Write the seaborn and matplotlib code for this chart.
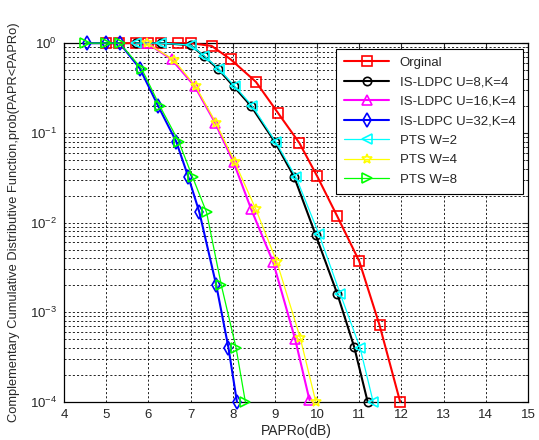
import pandas as pd
import matplotlib
matplotlib.use('Agg')
import matplotlib.pyplot as plt
import matplotlib.ticker as mticker
import seaborn as sns

sns.set_style("white")
plt.rcParams['font.family'] = ['Liberation Sans', 'DejaVu Sans']
plt.rcParams['mathtext.fontset'] = 'custom'
plt.rcParams['mathtext.rm'] = 'Liberation Sans'
plt.rcParams['mathtext.it'] = 'Liberation Sans:italic'

# values (PAPRo in dB, CCDF)
orig_x = [5.0, 5.3, 5.7, 6.0, 6.3, 6.7, 7.0, 7.5, 7.95, 8.55, 9.08, 9.58, 10.0, 10.48, 11.0, 11.48, 11.97]
orig_y = [1, 1, 1, 1, 1, 1, 1, 0.93, 0.66, 0.37, 0.165, 0.077, 0.033, 0.0117, 0.0037, 7.2e-4, 1e-4]

u8_x = [5.7, 6.3, 7.0, 7.31, 7.66, 8.02, 8.43, 9.0, 9.46, 9.97, 10.48, 10.88, 11.2]
u8_y = [1, 1, 0.95, 0.72, 0.51, 0.33, 0.2, 0.079, 0.032, 0.0072, 0.0016, 4.1e-4, 1e-4]

u16_x = [5.97, 6.55, 7.1, 7.58, 8.02, 8.44, 8.96, 9.48, 9.82]
u16_y = [1, 0.66, 0.33, 0.13, 0.047, 0.014, 0.0036, 5e-4, 1.05e-4]

u32_x = [4.54, 5.0, 5.32, 5.8, 6.23, 6.66, 6.95, 7.21, 7.61, 7.9, 8.1]
u32_y = [1, 1, 1, 0.52, 0.2, 0.08, 0.032, 0.013, 0.002, 4e-4, 1e-4]

w2_x = [5.7, 6.3, 7.0, 7.33, 7.68, 8.05, 8.46, 9.02, 9.5, 10.04, 10.55, 11.02, 11.33]
w2_y = [1, 1, 0.95, 0.72, 0.51, 0.33, 0.2, 0.079, 0.032, 0.0075, 0.0016, 4e-4, 1e-4]

w4_x = [5.97, 6.6, 7.12, 7.6, 8.05, 8.55, 9.05, 9.6, 9.97]
w4_y = [1, 0.65, 0.33, 0.13, 0.047, 0.014, 0.0036, 5.2e-4, 1e-4]

w8_x = [4.5, 5.0, 5.32, 5.84, 6.27, 6.72, 7.05, 7.38, 7.73, 8.08, 8.3]
w8_y = [1, 1, 1, 0.52, 0.2, 0.08, 0.032, 0.013, 0.002, 4e-4, 1e-4]

series = [
    ('Orginal', orig_x, orig_y, 'red', 's', 7.5, 1.5),
    ('IS-LDPC U=8,K=4', u8_x, u8_y, 'black', 'o', 6, 1.5),
    ('IS-LDPC U=16,K=4', u16_x, u16_y, 'magenta', '^', 7, 1.5),
    ('IS-LDPC U=32,K=4', u32_x, u32_y, 'blue', 'd', 7, 1.5),
    ('PTS W=2', w2_x, w2_y, 'cyan', '<', 7, 0.9),
    ('PTS W=4', w4_x, w4_y, 'yellow', '*', 7, 0.9),
    ('PTS W=8', w8_x, w8_y, 'lime', '>', 7, 0.9),
]

fig = plt.figure(figsize=(5.39, 4.4), dpi=100)
ax = fig.add_axes([0.1187, 0.0864, 0.8609, 0.8156])

for name, xs, ys, col, mk, ms, lw in series:
    sns.lineplot(x=xs, y=ys, ax=ax, sort=False, estimator=None, color=col,
                 marker=mk, markersize=ms, markerfacecolor='none',
                 markeredgecolor=col, markeredgewidth=1.2, linewidth=lw,
                 label=name, clip_on=False, zorder=3)

ax.set_yscale('log')
ax.set_xlim(4, 15)
ax.set_ylim(1e-4, 1)
ax.set_xticks(range(4, 16))
ax.yaxis.set_major_locator(mticker.LogLocator(base=10, numticks=10))
ax.yaxis.set_minor_locator(mticker.LogLocator(base=10, subs=range(2, 10), numticks=10))
ax.yaxis.set_minor_formatter(mticker.NullFormatter())

ax.grid(True, which='major', axis='both', color='black', linestyle=(0, (2.5, 2.5)), linewidth=0.6)
ax.grid(True, which='minor', axis='y', color='black', linestyle=(0, (2.5, 2.5)), linewidth=0.6)
ax.tick_params(which='both', direction='in', top=True, right=True, labelsize=9.5, pad=5)
ax.tick_params(which='major', length=4, width=0.8)
ax.tick_params(which='minor', length=2.5, width=0.6)
for sp in ax.spines.values():
    sp.set_color('black')
    sp.set_linewidth(0.9)

ax.set_xlabel('PAPRo(dB)', fontsize=10, labelpad=2)
ax.set_ylabel('Complementary Cumulative Distributive Function,prob(PAPR<PAPRo)', fontsize=9.3, labelpad=7)

leg = ax.legend(loc='upper right', bbox_to_anchor=(0.99, 0.985), borderaxespad=0,
                fontsize=9.5, handlelength=3.4, labelspacing=0.55, fancybox=False,
                framealpha=1, edgecolor='black', borderpad=0.6)
leg.get_frame().set_linewidth(0.8)

fig.savefig('out.png', dpi=100)
